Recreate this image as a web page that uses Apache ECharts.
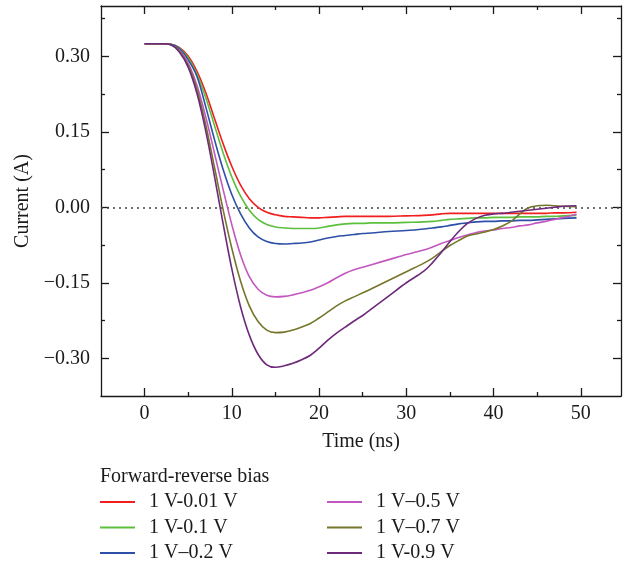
<!DOCTYPE html>
<html>
<head>
<meta charset="utf-8">
<script src="https://cdn.jsdelivr.net/npm/echarts@6/dist/echarts.min.js"></script>
<style>
html,body{margin:0;padding:0;background:#fff;}
#chart{width:632px;height:567px;}
</style>
</head>
<body>
<div id="chart"></div>
<script>
// ---- Data ----
const timeNs = [0, 2, 3, 4, 5, 6, 7, 8, 9, 10, 11, 12, 13, 14, 15, 16, 17, 18, 19, 20, 21, 22, 23, 24, 25, 26, 28, 30, 32, 33, 34, 35, 36, 37, 38, 39, 40, 41, 42, 43, 44, 45, 46, 47, 48, 49.5];

const seriesNames = ['1 V-0.01 V', '1 V-0.1 V', '1 V\u20130.2 V', '1 V\u20130.5 V', '1 V\u20130.7 V', '1 V-0.9 V'];

const bias001 = [0.325, 0.325, 0.324, 0.317, 0.300, 0.270, 0.228, 0.177, 0.126, 0.081, 0.044, 0.017, 0.000, -0.010, -0.015, -0.018, -0.019, -0.020, -0.021, -0.021, -0.020, -0.019, -0.018, -0.018, -0.018, -0.018, -0.018, -0.017, -0.016, -0.015, -0.013, -0.012, -0.012, -0.012, -0.012, -0.012, -0.012, -0.012, -0.012, -0.012, -0.012, -0.012, -0.012, -0.011, -0.011, -0.010];
const bias01 = [0.325, 0.325, 0.324, 0.316, 0.297, 0.264, 0.218, 0.163, 0.108, 0.060, 0.022, -0.006, -0.024, -0.034, -0.039, -0.041, -0.042, -0.042, -0.042, -0.041, -0.038, -0.035, -0.033, -0.032, -0.032, -0.031, -0.031, -0.030, -0.029, -0.028, -0.026, -0.024, -0.023, -0.022, -0.021, -0.021, -0.020, -0.020, -0.020, -0.019, -0.019, -0.019, -0.018, -0.018, -0.017, -0.016];
const bias02 = [0.325, 0.325, 0.324, 0.315, 0.293, 0.260, 0.200, 0.135, 0.075, 0.025, -0.013, -0.041, -0.059, -0.068, -0.072, -0.073, -0.072, -0.071, -0.069, -0.065, -0.061, -0.058, -0.056, -0.054, -0.052, -0.051, -0.048, -0.046, -0.043, -0.041, -0.039, -0.036, -0.033, -0.031, -0.029, -0.028, -0.028, -0.027, -0.027, -0.026, -0.026, -0.025, -0.024, -0.023, -0.022, -0.021];
const bias05 = [0.325, 0.325, 0.323, 0.312, 0.286, 0.242, 0.180, 0.108, 0.035, -0.035, -0.095, -0.138, -0.163, -0.175, -0.178, -0.177, -0.174, -0.170, -0.165, -0.158, -0.150, -0.140, -0.131, -0.124, -0.119, -0.114, -0.104, -0.094, -0.085, -0.079, -0.072, -0.066, -0.060, -0.055, -0.050, -0.047, -0.045, -0.042, -0.040, -0.037, -0.035, -0.031, -0.028, -0.024, -0.020, -0.014];
const bias07 = [0.325, 0.325, 0.323, 0.310, 0.282, 0.234, 0.164, 0.080, -0.005, -0.082, -0.147, -0.196, -0.227, -0.244, -0.249, -0.248, -0.244, -0.238, -0.231, -0.220, -0.208, -0.196, -0.186, -0.178, -0.170, -0.162, -0.145, -0.128, -0.111, -0.101, -0.088, -0.076, -0.066, -0.057, -0.053, -0.049, -0.044, -0.037, -0.028, -0.013, -0.001, 0.003, 0.004, 0.003, 0.002, 0.001];
const bias09 = [0.325, 0.325, 0.323, 0.308, 0.278, 0.226, 0.152, 0.062, -0.033, -0.123, -0.198, -0.254, -0.292, -0.313, -0.318, -0.315, -0.310, -0.303, -0.294, -0.280, -0.264, -0.250, -0.238, -0.226, -0.215, -0.202, -0.176, -0.150, -0.127, -0.110, -0.090, -0.068, -0.048, -0.032, -0.022, -0.016, -0.013, -0.012, -0.010, -0.008, -0.006, -0.004, -0.002, 0.000, 0.002, 0.003];

const xMajorTicks = [0, 10, 20, 30, 40, 50];
const xMinorTicks = [5, 15, 25, 35, 45];
const yMajorTicks = [-0.30, -0.15, 0.00, 0.15, 0.30];
const yMinorTicks = [-0.225, -0.075, 0.075, 0.225, 0.375];

// ---- Styling ----
const FONT = '"Liberation Serif", "DejaVu Serif", serif';
const FS = 20;
const TXT = '#1a1a1a';
const AXC = '#1a1a1a';
const colors = ['#f01e1e', '#5cbf3c', '#2d4fa8', '#c457bf', '#76762a', '#6e2a7a'];
const values = [bias001, bias01, bias02, bias05, bias07, bias09];

const X_MIN = -5, X_MAX = 54.6, Y_MIN = -0.375, Y_MAX = 0.4;

function xAx(pos, ticks, len, showLine, showLabel, extra) {
  return Object.assign({
    type: 'value', position: pos, min: X_MIN, max: X_MAX, gridIndex: 0,
    axisLine: {show: showLine, onZero: false, lineStyle: {color: AXC, width: 1.3}},
    axisTick: {show: true, inside: true, length: len, customValues: ticks, lineStyle: {color: AXC, width: 1.3}},
    axisLabel: {show: showLabel, customValues: ticks, fontFamily: FONT, fontSize: FS, color: TXT, margin: 8},
    splitLine: {show: false}
  }, extra || {});
}
function yAx(pos, ticks, len, showLine, showLabel, extra) {
  return Object.assign({
    type: 'value', position: pos, min: Y_MIN, max: Y_MAX, gridIndex: 0,
    axisLine: {show: showLine, onZero: false, lineStyle: {color: AXC, width: 1.3}},
    axisTick: {show: true, inside: true, length: len, customValues: ticks, lineStyle: {color: AXC, width: 1.3}},
    axisLabel: {show: showLabel, customValues: ticks, fontFamily: FONT, fontSize: FS, color: TXT, margin: 11,
      formatter: v => (v < 0 ? '\u2212' + Math.abs(v).toFixed(2) : v.toFixed(2))},
    splitLine: {show: false}
  }, extra || {});
}

const series = seriesNames.map((name, i) => ({
  name: name,
  type: 'line',
  xAxisIndex: 0, yAxisIndex: 0,
  data: timeNs.map((t, k) => [t, values[i][k]]),
  smooth: 0.35,
  symbol: 'none',
  lineStyle: {color: colors[i], width: 1.6},
  itemStyle: {color: colors[i]},
  z: 3 + i
}));
series[0].markLine = {
  silent: true, symbol: 'none', animation: false,
  label: {show: false},
  lineStyle: {color: '#444', width: 1.6, type: [2, 4]},
  data: [{yAxis: 0}],
  z: 1
};

const legendCommon = {
  orient: 'vertical', itemWidth: 35, itemHeight: 2, itemGap: 5.5, padding: 0,
  height: 120, icon: 'rect',
  textStyle: {fontFamily: FONT, fontSize: FS, lineHeight: 20, color: TXT, padding: [0, 0, 0, 9]},
  selectedMode: false
};

const option = {
  animation: false,
  backgroundColor: '#fff',
  grid: {left: 101, top: 6, width: 520, height: 390, containLabel: false},
  title: {
    text: 'Forward-reverse bias', left: 100, top: 467, padding: 0,
    textStyle: {fontFamily: FONT, fontSize: FS, fontWeight: 'normal', color: TXT}
  },
  legend: [
    Object.assign({left: 100, top: 492, data: seriesNames.slice(0, 3)}, legendCommon),
    Object.assign({left: 327, top: 492, data: seriesNames.slice(3, 6)}, legendCommon)
  ],
  xAxis: [
    xAx('bottom', xMajorTicks, 8, true, true, {
      name: 'Time (ns)', nameLocation: 'middle', nameGap: 36,
      nameTextStyle: {fontFamily: FONT, fontSize: FS, color: TXT}
    }),
    xAx('bottom', xMinorTicks, 4, false, false),
    xAx('top', xMajorTicks, 8, true, false),
    xAx('top', xMinorTicks, 4, false, false)
  ],
  yAxis: [
    yAx('left', yMajorTicks, 8, true, true, {
      name: 'Current (A)', nameLocation: 'middle', nameGap: 68, nameRotate: 90,
      nameTextStyle: {fontFamily: FONT, fontSize: FS, color: TXT}
    }),
    yAx('left', yMinorTicks, 4, false, false),
    yAx('right', yMajorTicks, 8, true, false),
    yAx('right', yMinorTicks, 4, false, false)
  ],
  series: series
};

const chart = echarts.init(document.getElementById('chart'), null, {renderer: 'canvas'});
chart.setOption(option);
</script>
</body>
</html>
